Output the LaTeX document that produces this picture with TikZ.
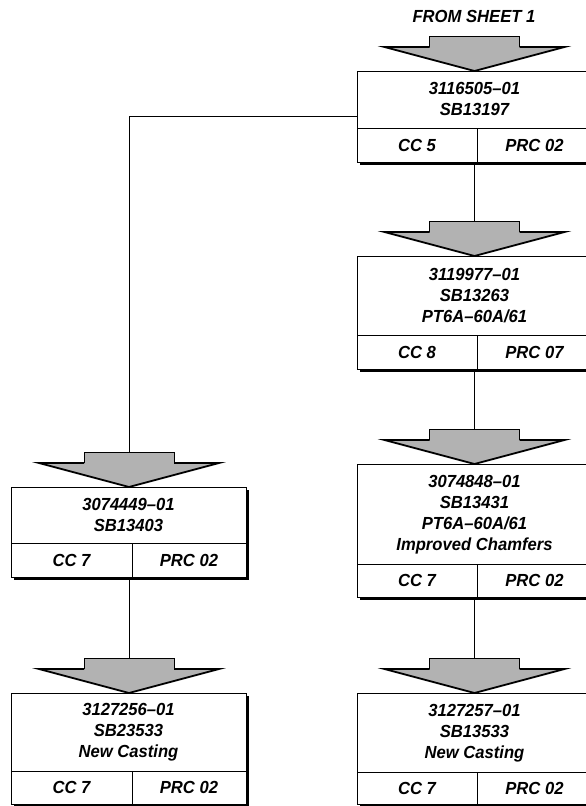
\documentclass[tikz,border=0pt]{standalone}
\usepackage{fontspec}
\setmainfont[FakeStretch=0.95]{Liberation Sans}
\usetikzlibrary{fit,shadows}
\newcommand\pbox[8]{% name, left x, top y, divider y, bottom y, divider x, cc, prc
  \node[partbox, fit={(#2,#3) (#2+235,#5)}] (#1) {};
  \draw[inner] (#2,#4) -- (#2+235,#4);
  \draw[inner] (#6,#4) -- (#6,#5);
  \node[txt] (#1cc) at ({(#2+#6)/2},{(#4+#5)/2}) {#7};
  \node[txt] (#1prc) at ({(#6+#2+235)/2},{(#4+#5)/2}) {#8};
}
\newcommand\parrow[3]{% name, centre x, tip y
  \fill[arrowfill] (#2-45,#3-35) -- (#2+45,#3-35) -- (#2+45,#3-24) -- (#2+90,#3-24)
     -- (#2,#3) -- (#2-90,#3-24) -- (#2-45,#3-24) -- cycle;
  \draw[arrowthin] (#2-45,#3-24) -- (#2-45,#3-35) -- (#2+45,#3-35) -- (#2+45,#3-24);
  \draw[arrowthick] (#2-45,#3-24) -- (#2-90,#3-24) -- (#2,#3) -- (#2+90,#3-24) -- (#2+45,#3-24);
  \coordinate (#1) at (#2,#3-35);
}
\begin{document}
\begin{tikzpicture}[x=1pt,y=-1pt,
  txt/.style={font=\fontsize{17.5}{21}\selectfont\bfseries\itshape, align=center, inner sep=0pt},
  partbox/.style={draw=black, fill=white, line width=0.9pt, inner sep=0pt,
     drop shadow={shadow xshift=2.5pt, shadow yshift=-2.5pt, fill=black, opacity=1}},
  inner/.style={draw=black, line width=0.7pt},
  arrowfill/.style={fill=gray!60},
  arrowthin/.style={draw=black, line width=1pt, line join=miter},
  arrowthick/.style={draw=black, line width=1.8pt, line join=miter},
  conn/.style={draw=black, line width=1pt}]
\useasboundingbox (0,0) rectangle (586,806);
\clip (0,0) rectangle (586,806);

\node[txt] (from) at (474,16) {FROM SHEET 1};

% right column
\pbox{r1}{357}{71}{128}{162}{477}{CC 5}{PRC 02}
\node[txt] (r1t) at (474.5,99) {3116505–01\\SB13197};
\pbox{r2}{357}{256}{335}{369}{477}{CC 8}{PRC 07}
\node[txt] (r2t) at (474.5,296) {3119977–01\\SB13263\\PT6A–60A/61};
\pbox{r3}{357}{464}{564}{597}{477}{CC 7}{PRC 02}
\node[txt] (r3t) at (474.5,514.5) {3074848–01\\SB13431\\PT6A–60A/61\\Improved Chamfers};
\pbox{r4}{357}{693}{772}{804}{477}{CC 7}{PRC 02}
\node[txt] (r4t) at (474.5,733) {3127257–01\\SB13533\\New Casting};

% left column
\pbox{l1}{11}{487}{543}{577}{132}{CC 7}{PRC 02}
\node[txt] (l1t) at (128.5,515) {3074449–01\\SB13403};
\pbox{l2}{11}{693}{771}{804}{132}{CC 7}{PRC 02}
\node[txt] (l2t) at (128.5,732.5) {3127256–01\\SB23533\\New Casting};

% arrows
\parrow{ar1}{474.5}{71}
\parrow{ar2}{474.5}{256}
\parrow{ar3}{474.5}{464}
\parrow{ar4}{474.5}{693}
\parrow{al1}{129}{487}
\parrow{al2}{129}{693}

% connectors
\draw[conn] (ar2) -- (ar2 |- r1.south);
\draw[conn] (ar3) -- (ar3 |- r2.south);
\draw[conn] (ar4) -- (ar4 |- r3.south);
\draw[conn] (al2) -- (al2 |- l1.south);
\draw[conn] (r1.west) -| (al1);
\end{tikzpicture}
\end{document}
